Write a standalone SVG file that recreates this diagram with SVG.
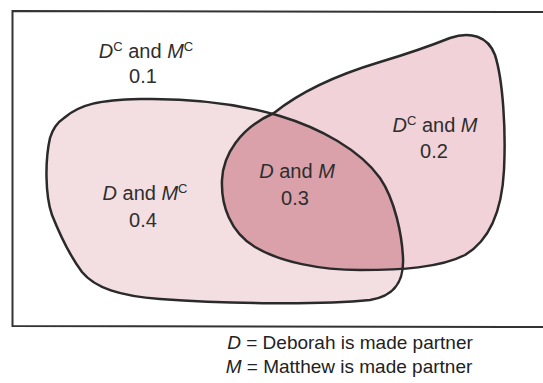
<svg xmlns="http://www.w3.org/2000/svg" width="543" height="383" viewBox="0 0 543 383">
<style>
.lbl{font-family:"Liberation Sans",Arial,sans-serif;font-size:20px;fill:#2e2e2e;text-anchor:middle}
.key{font-family:"Liberation Sans",Arial,sans-serif;font-size:19px;fill:#222;text-anchor:middle}
.v{font-style:italic}
.sup{font-size:13px}
.outline{fill:none;stroke:#2a2a2a;stroke-width:2.5;stroke-linejoin:round}
</style>
<defs>
<path id="pD" d="M 64,118 C 80,104 100,100 140,99 C 190,98 240,104 280,116 C 320,128 360,150 380,178 C 395,200 402,235 403,258 C 404,280 396,296 370,300 C 320,305 230,304 160,299 C 120,296 95,288 82,272 C 70,256 60,235 52,215 C 45,195 45,160 50,138 C 53,128 58,122 64,118 Z"/>
<path id="pM" d="M 274,113 C 300,92 340,74 380,62 C 410,53 430,46 450,38 C 470,31 488,36 495,55 C 503,80 506,130 504,170 C 502,210 490,240 465,255 C 440,268 400,270 360,270 C 320,270 280,262 255,247 C 230,232 221,205 222,180 C 223,155 240,128 274,113 Z"/>
<clipPath id="clipD"><use href="#pD"/></clipPath>
</defs>
<rect x="0" y="0" width="543" height="383" fill="#ffffff"/>
<g id="frame" fill="none" stroke="#333" stroke-width="2">
<path d="M 543,12 L 12.5,11 L 12.5,326 L 543,327"/>
</g>
<g id="setD"><use href="#pD" fill="#f3dfe2"/></g>
<g id="setM"><use href="#pM" fill="#f0d2d8"/></g>
<g id="intersection"><use href="#pM" fill="#daa1aa" clip-path="url(#clipD)"/></g>
<g id="outlines">
<use href="#pD" class="outline"/>
<use href="#pM" class="outline"/>
</g>
<g id="labels">
<text class="lbl" x="146" y="58"><tspan class="v">D</tspan><tspan class="sup" dy="-7">C</tspan><tspan dy="7"> and </tspan><tspan class="v">M</tspan><tspan class="sup" dy="-7">C</tspan></text>
<text class="lbl" x="143" y="83">0.1</text>
<text class="lbl" x="435" y="132"><tspan class="v">D</tspan><tspan class="sup" dy="-7">C</tspan><tspan dy="7"> and </tspan><tspan class="v">M</tspan></text>
<text class="lbl" x="434" y="158">0.2</text>
<text class="lbl" x="297" y="178"><tspan class="v">D</tspan> and <tspan class="v">M</tspan></text>
<text class="lbl" x="295" y="205">0.3</text>
<text class="lbl" x="145" y="200"><tspan class="v">D</tspan> and <tspan class="v">M</tspan><tspan class="sup" dy="-7">C</tspan></text>
<text class="lbl" x="143" y="227">0.4</text>
</g>
<g id="key">
<text class="key" x="350" y="349"><tspan class="v">D</tspan> = Deborah is made partner</text>
<text class="key" x="349" y="373"><tspan class="v">M</tspan> = Matthew is made partner</text>
</g>
</svg>
